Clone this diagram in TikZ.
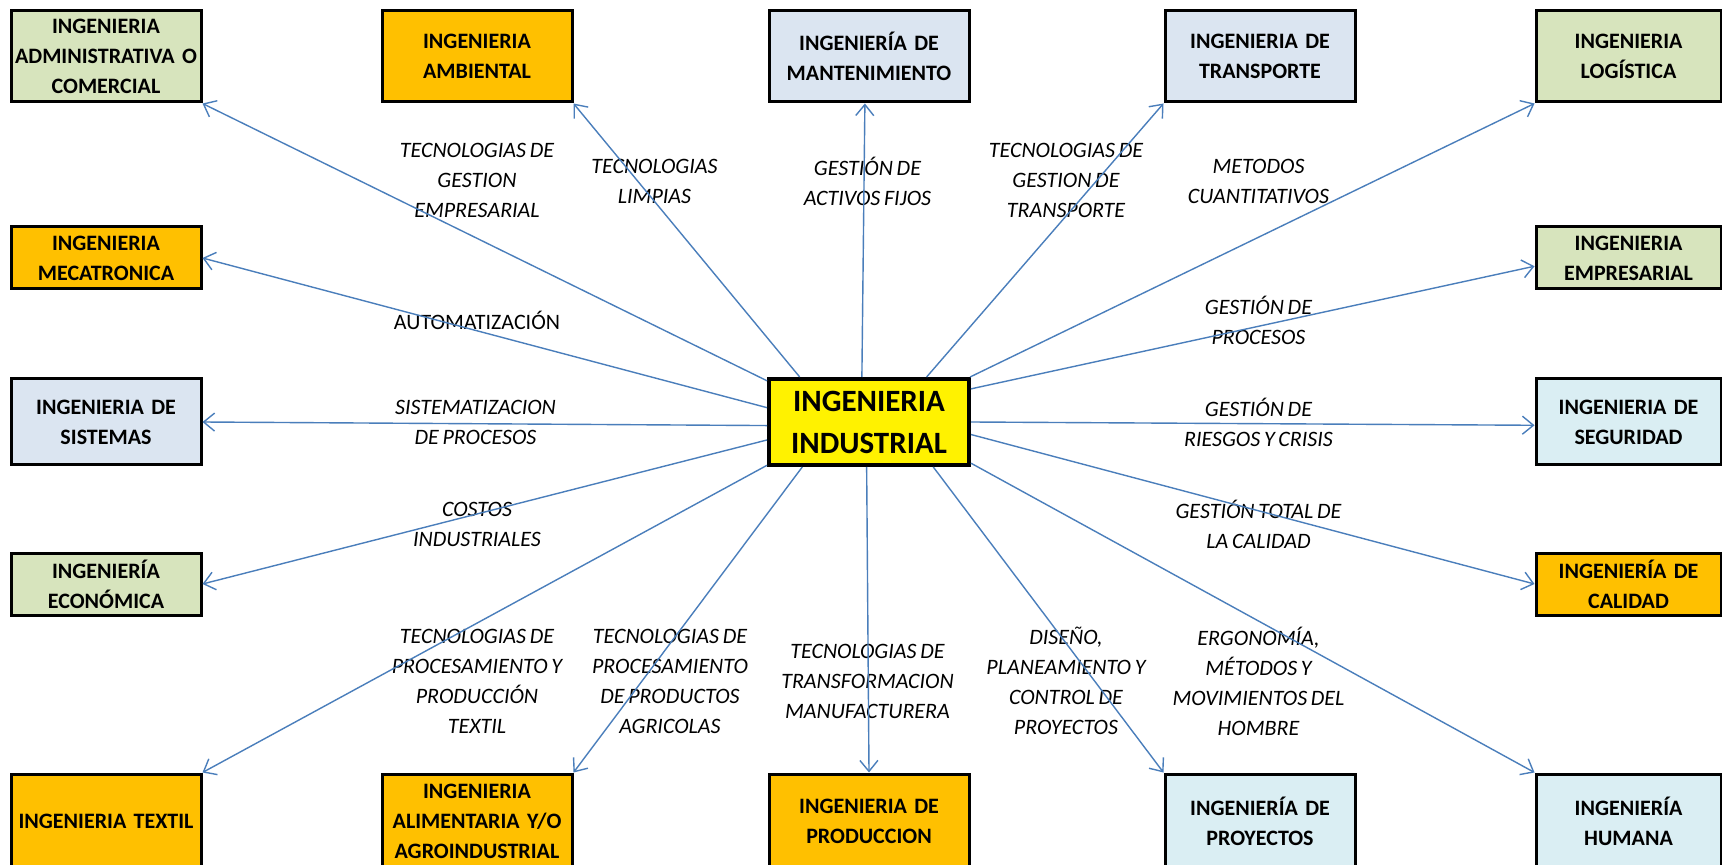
\documentclass[tikz,border=0pt]{standalone}
\usepackage{fontspec}
\setmainfont{Carlito}[WordSpace=0.75]
\usetikzlibrary{arrows.meta}
\definecolor{verde}{HTML}{D7E4BD}
\definecolor{naranja}{HTML}{FFC000}
\definecolor{azul}{HTML}{DBE5F1}
\definecolor{celeste}{HTML}{DAEEF3}
\definecolor{flecha}{HTML}{4A7EBB}
\begin{document}
\begin{tikzpicture}[x=0.5pt, y=-0.5pt,
  caja/.style={draw, line width=1.5pt, inner sep=0pt, align=center, text width=93pt, minimum width=95pt, font=\bfseries\fontsize{11}{15}\selectfont},
  etiq/.style={align=center, inner sep=0pt, font=\itshape\fontsize{11}{15}\selectfont},
  flechas/.style={draw=flecha, line width=0.7pt, -{Straight Barb[length=5.5pt, width=9pt]}}]
\useasboundingbox[fill=white] (0,0) rectangle (1722,865);
\clip (0,0) rectangle (1722,865);
\node[caja, fill=yellow, line width=2pt, minimum width=100pt, minimum height=43pt, text width=98pt, font=\bfseries\fontsize{15.5}{21}\selectfont] (ing0) at (869,422){INGENIERIA\\INDUSTRIAL};
\node[caja, fill=verde, minimum height=45.5pt] (ing1) at (106,56.5){INGENIERIA\\ADMINISTRATIVA O\\COMERCIAL};
\node[caja, fill=naranja, minimum height=45.5pt] (ing2) at (477,56.5){INGENIERIA\\AMBIENTAL};
\node[caja, fill=azul, minimum height=45.5pt, minimum width=100pt] (ing3) at (869,56.5){INGENIERÍA DE\\MANTENIMIENTO};
\node[caja, fill=azul, minimum height=45.5pt] (ing4) at (1260,56.5){INGENIERIA DE\\TRANSPORTE};
\node[caja, fill=verde, minimum height=45.5pt, minimum width=92.5pt, text width=91pt] (ing5) at (1628.5,56.5){INGENIERIA\\LOGÍSTICA};
\node[caja, fill=naranja, minimum height=31pt] (ing6) at (106,258){INGENIERIA\\MECATRONICA};
\node[caja, fill=verde, minimum height=31pt, minimum width=92.5pt, text width=91pt] (ing7) at (1628.5,258){INGENIERIA\\EMPRESARIAL};
\node[caja, fill=azul, minimum height=43pt] (ing8) at (106,422){INGENIERIA DE\\SISTEMAS};
\node[caja, fill=celeste, minimum height=43pt, minimum width=92.5pt, text width=91pt] (ing9) at (1628.5,422){INGENIERIA DE\\SEGURIDAD};
\node[caja, fill=verde, minimum height=31pt] (ing10) at (106,584){INGENIERÍA\\ECONÓMICA};
\node[caja, fill=naranja, minimum height=31pt, minimum width=92.5pt, text width=91pt] (ing11) at (1628.5,584){INGENIERÍA DE\\CALIDAD};
\node[caja, fill=naranja, minimum height=47pt] (ing12) at (106,821){INGENIERIA TEXTIL};
\node[caja, fill=naranja, minimum height=47pt] (ing13) at (477,821){INGENIERIA\\ALIMENTARIA Y/O\\AGROINDUSTRIAL};
\node[caja, fill=naranja, minimum height=47pt, minimum width=100pt] (ing14) at (869,821){INGENIERIA DE\\PRODUCCION};
\node[caja, fill=celeste, minimum height=47pt] (ing15) at (1260,821){INGENIERÍA DE\\PROYECTOS};
\node[caja, fill=celeste, minimum height=47pt, minimum width=92.5pt, text width=91pt] (ing16) at (1628.5,821){INGENIERÍA\\HUMANA};
\node[etiq] (lab1) at (477,180){TECNOLOGIAS DE\\GESTION\\EMPRESARIAL};
\node[etiq] (lab2) at (654.5,181){TECNOLOGIAS\\LIMPIAS};
\node[etiq] (lab3) at (867.5,181){GESTIÓN DE\\ACTIVOS FIJOS};
\node[etiq] (lab4) at (1066,180){TECNOLOGIAS DE\\GESTION DE\\TRANSPORTE};
\node[etiq] (lab5) at (1258.5,181){METODOS\\CUANTITATIVOS};
\node[etiq, font=\fontsize{11}{15}\selectfont] (lab6) at (477,320.5){AUTOMATIZACIÓN};
\node[etiq] (lab7) at (1258.5,320.5){GESTIÓN DE\\PROCESOS};
\node[etiq] (lab8) at (475.5,422){SISTEMATIZACION\\DE PROCESOS};
\node[etiq] (lab9) at (1258.5,422){GESTIÓN DE\\RIESGOS Y CRISIS};
\node[etiq] (lab10) at (477,524.5){COSTOS\\INDUSTRIALES};
\node[etiq] (lab11) at (1258.5,524.5){GESTIÓN TOTAL DE\\LA CALIDAD};
\node[etiq] (lab12) at (477,681){TECNOLOGIAS DE\\PROCESAMIENTO Y\\PRODUCCIÓN\\TEXTIL};
\node[etiq] (lab13) at (670,681){TECNOLOGIAS DE\\PROCESAMIENTO\\DE PRODUCTOS\\AGRICOLAS};
\node[etiq] (lab14) at (867.5,681){TECNOLOGIAS DE\\TRANSFORMACION\\MANUFACTURERA};
\node[etiq] (lab15) at (1066,681){DISEÑO,\\PLANEAMIENTO Y\\CONTROL DE\\PROYECTOS};
\node[etiq] (lab16) at (1258.5,681){ERGONOMÍA,\\MÉTODOS Y\\MOVIMIENTOS DEL\\HOMBRE};
\draw[flechas](ing0.158) -- (ing1.south east);
\draw[flechas](ing0.147) -- (ing2.south east);
\draw[flechas](ing0.99) -- (ing3.265);
\draw[flechas](ing0.38) -- (ing4.south west);
\draw[flechas](ing0.24) -- (ing5.south west);
\draw[flechas](ing0.172) -- (ing6.east);
\draw[flechas](ing0.18) -- (ing7.185);
\draw[flechas](ing0.182) -- (ing8.east);
\draw[flechas](ing0.0) -- (ing9.182);
\draw[flechas](ing0.190) -- (ing10.east);
\draw[flechas](ing0.353) -- (ing11.west);
\draw[flechas](ing0.203) -- (ing12.north east);
\draw[flechas](ing0.214) -- (ing13.north east);
\draw[flechas](ing0.267) -- (ing14.north);
\draw[flechas](ing0.325) -- (ing15.north west);
\draw[flechas](ing0.338) -- (ing16.north west);
\end{tikzpicture}
\end{document}
